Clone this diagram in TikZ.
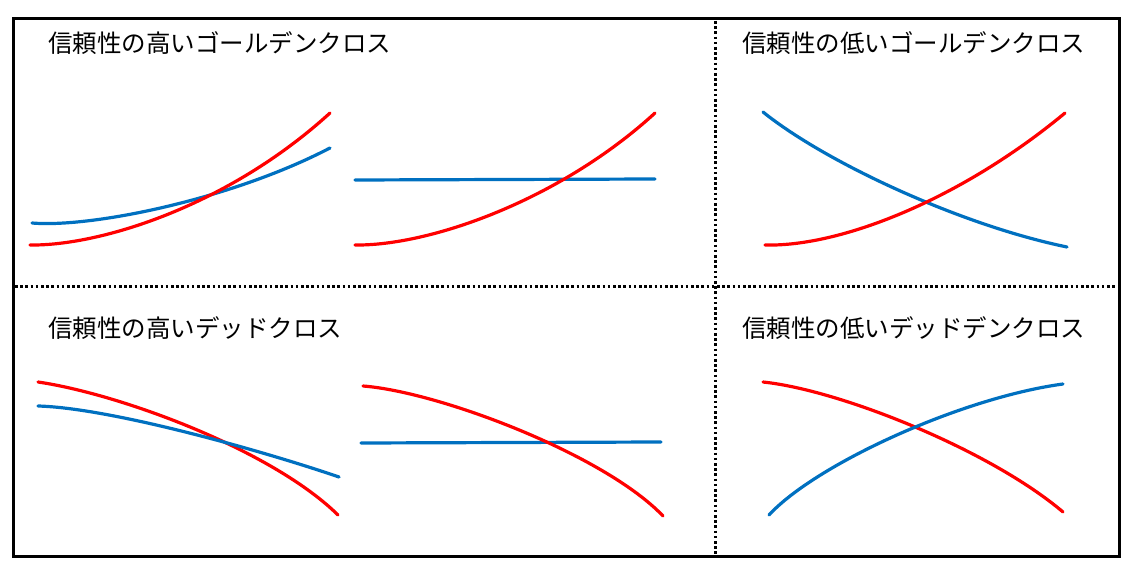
\documentclass[tikz,border=0pt]{standalone}
\usepackage{fontspec}
\newfontfamily\jpfont{Noto Sans CJK JP}
\definecolor{lineblue}{RGB}{0,112,192}
\definecolor{linered}{RGB}{255,0,0}

\begin{document}
\begin{tikzpicture}[x=1pt, y=-1pt,
    redline/.style={linered, line width=3.2pt, line cap=round},
    blueline/.style={lineblue, line width=3.2pt, line cap=round},
    divider/.style={line width=3pt, dash pattern=on 2.6pt off 2.6pt},
    title/.style={anchor=west, inner sep=0pt, font=\jpfont\fontsize{24.5}{28}\selectfont}]
  \useasboundingbox (0, 0) rectangle (1133, 569);

  % 外枠と区切り
  \coordinate (NW) at (13, 19);
  \coordinate (SE) at (1119, 556);
  \draw[line width=3pt] (NW) rectangle (SE);
  \draw[divider] (715, 21) -- (715, 554);
  \draw[divider] (15, 287) -- (1117, 287);

  % 見出し
  \node[title] (t1) at (48, 43)  {信頼性の高いゴールデンクロス};
  \node[title] (t2) at (742, 43) {信頼性の低いゴールデンクロス};
  \node[title] (t3) at (48, 328) {信頼性の高いデッドクロス};
  \node[title] (t4) at (742, 328) {信頼性の低いデッドデンクロス};

  % 左上
  \draw[blueline] (32, 223) .. controls (90, 228) and (230, 200) .. (330, 148);
  \draw[redline]  (30, 245) .. controls (100, 246) and (228, 206) .. (330, 113);

  % 中上
  \draw[blueline] (355, 180) -- (655, 179);
  \draw[redline]  (355, 245) .. controls (430, 246) and (560, 200) .. (655, 113);

  % 右上
  \draw[blueline] (763, 112) .. controls (825, 162) and (960, 225) .. (1067, 247);
  \draw[redline]  (765, 245) .. controls (840, 247) and (960, 200) .. (1065, 113);

  % 左下
  \draw[redline]  (38, 382) .. controls (120, 394) and (272, 450) .. (338, 515);
  \draw[blueline] (38, 406) .. controls (110, 408) and (260, 450) .. (339, 477);

  % 中下
  \draw[blueline] (361, 443) -- (661, 442);
  \draw[redline]  (363, 386) .. controls (440, 392) and (605, 455) .. (663, 516);

  % 右下
  \draw[redline]  (763, 382) .. controls (840, 390) and (990, 450) .. (1063, 512);
  \draw[blueline] (769, 515) .. controls (815, 465) and (960, 398) .. (1063, 384);
\end{tikzpicture}
\end{document}
